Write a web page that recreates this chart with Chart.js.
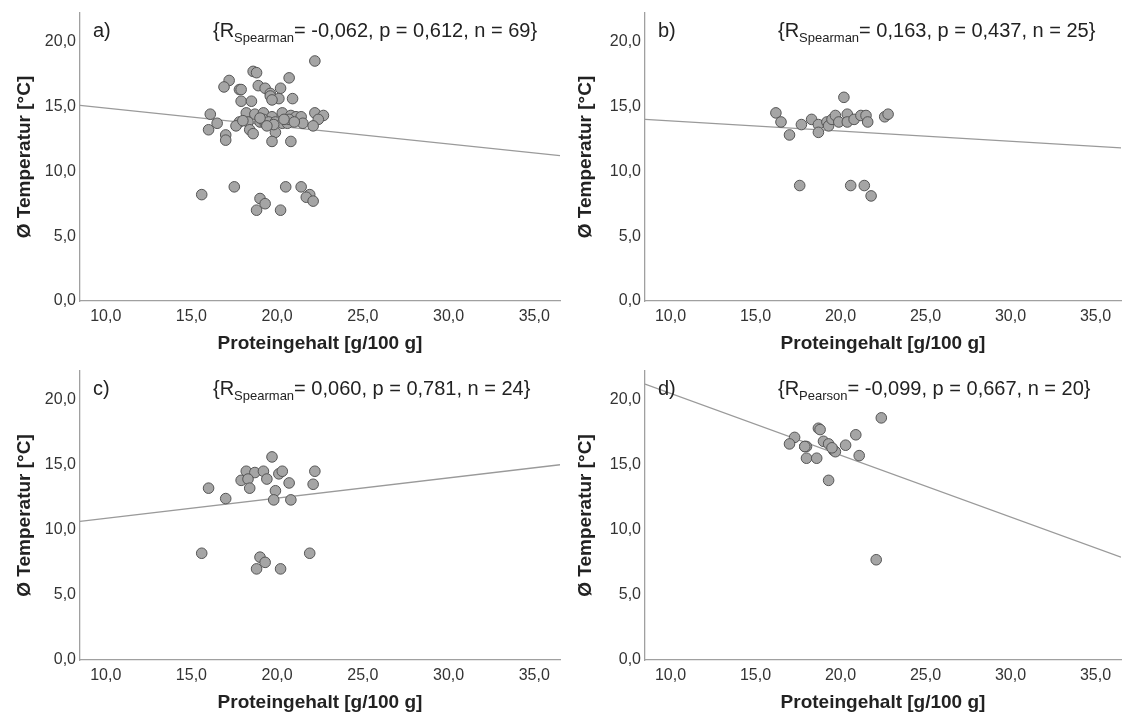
<!DOCTYPE html>
<html>
<head>
<meta charset="utf-8">
<script src="https://cdn.jsdelivr.net/npm/chart.js@4.4.1/dist/chart.umd.min.js"></script>
<style>
  body { margin: 0; background: #fff; }
  .panel { position: absolute; }
</style>
</head>
<body>
<div class="panel" style="left:0;top:0"><canvas id="chartA" width="561" height="358"></canvas></div>
<div class="panel" style="left:561px;top:0"><canvas id="chartB" width="561" height="358"></canvas></div>
<div class="panel" style="left:0;top:358px"><canvas id="chartC" width="561" height="359"></canvas></div>
<div class="panel" style="left:561px;top:358px"><canvas id="chartD" width="561" height="359"></canvas></div>
<script>
// tick labels
const xTicks = [10, 15, 20, 25, 30, 35];
const yTicks = [0, 5, 10, 15, 20];

// a) all samples
const aProtein = [22.2, 18.6, 18.8, 17.2, 16.9, 20.7, 17.8, 17.9, 18.9, 19.3, 20.2, 19.6, 19.6, 20.1, 19.7, 20.9, 17.9, 18.5,
  16.1, 18.2, 18.7, 19.2, 19.7, 20.3, 20.8, 21.1, 21.4, 22.2, 22.7, 22.4, 16.5, 16.0, 17.8, 17.6, 18.3, 18.4, 18.6, 19.0,
  19.3, 19.2, 19.5, 19.9, 20.3, 20.6, 20.7, 21.5, 22.1, 19.9, 19.7, 20.8, 17.0, 17.0, 19.0, 19.8, 20.4, 18.0, 21.0, 19.4,
  15.6, 17.5, 19.0, 19.3, 18.8, 20.2, 20.5, 21.4, 21.9, 21.7, 22.1];
const aTemp = [18.5, 17.7, 17.6, 17.0, 16.5, 17.2, 16.3, 16.3, 16.6, 16.4, 16.4, 16.0, 15.8, 15.6, 15.5, 15.6, 15.4, 15.4,
  14.4, 14.5, 14.4, 14.5, 14.2, 14.5, 14.3, 14.2, 14.2, 14.5, 14.3, 14.0, 13.7, 13.2, 13.8, 13.5, 13.8, 13.2, 12.9, 13.8,
  13.7, 14.0, 13.8, 13.8, 13.7, 13.7, 14.0, 13.7, 13.5, 13.0, 12.3, 12.3, 12.8, 12.4, 14.1, 13.6, 14.0, 13.9, 13.8, 13.5,
  8.2, 8.8, 7.9, 7.5, 7.0, 7.0, 8.8, 8.8, 8.2, 8.0, 7.7];

// b)
const bProtein = [20.2, 16.2, 16.5, 17.0, 17.7, 18.3, 18.7, 18.7, 19.2, 19.3, 19.5, 19.7, 19.9, 20.4, 20.4, 20.8, 21.2,
  21.5, 21.6, 22.6, 22.8, 17.6, 20.6, 21.4, 21.8];
const bTemp = [15.7, 14.5, 13.8, 12.8, 13.6, 14.0, 13.6, 13.0, 13.8, 13.5, 14.0, 14.3, 13.8, 14.4, 13.8, 14.0, 14.3,
  14.3, 13.8, 14.2, 14.4, 8.9, 8.9, 8.9, 8.1];

// c)
const cProtein = [19.7, 18.2, 18.7, 19.2, 20.1, 20.3, 22.2, 17.9, 18.3, 19.4, 20.7, 22.1, 16.0, 18.4, 19.9, 17.0, 19.8,
  20.8, 15.6, 21.9, 19.0, 19.3, 18.8, 20.2];
const cTemp = [15.6, 14.5, 14.4, 14.5, 14.3, 14.5, 14.5, 13.8, 13.9, 13.9, 13.6, 13.5, 13.2, 13.2, 13.0, 12.4, 12.3,
  12.3, 8.2, 8.2, 7.9, 7.5, 7.0, 7.0];

// d)
const dProtein = [22.4, 18.7, 18.8, 20.9, 17.3, 17.0, 17.9, 18.0, 19.0, 19.3, 19.6, 19.7, 20.3, 18.0, 18.6, 21.1, 19.3,
  22.1, 17.9, 19.5];
const dTemp = [18.6, 17.8, 17.7, 17.3, 17.1, 16.6, 16.4, 16.4, 16.8, 16.6, 16.1, 16.0, 16.5, 15.5, 15.5, 15.7, 13.8,
  7.7, 16.4, 16.3];

// fit lines (ends of the x range)
const fitX = [8.5, 36.5];
const aFit = [15.08, 11.2];
const bFit = [14.0, 11.8];
const cFit = [10.65, 15.0];
const dFit = [21.2, 7.9];

const panels = [
  { id: 'chartA', letter: 'a)', rName: 'Spearman', stat: '= -0,062, p = 0,612, n = 69}', x: aProtein, y: aTemp, fit: aFit, yw: 80 },
  { id: 'chartB', letter: 'b)', rName: 'Spearman', stat: '= 0,163, p = 0,437, n = 25}', x: bProtein, y: bTemp, fit: bFit, yw: 84 },
  { id: 'chartC', letter: 'c)', rName: 'Spearman', stat: '= 0,060, p = 0,781, n = 24}', x: cProtein, y: cTemp, fit: cFit, yw: 80 },
  { id: 'chartD', letter: 'd)', rName: 'Pearson', stat: '= -0,099, p = 0,667, n = 20}', x: dProtein, y: dTemp, fit: dFit, yw: 84 }
];

Chart.defaults.font.family = '"Liberation Sans", Arial, sans-serif';
Chart.defaults.color = '#333';

const fmt = v => v.toFixed(1).replace('.', ',');

const labelPlugin = {
  id: 'panelLabels',
  afterDraw(chart) {
    const p = chart.options.plugins.panelLabels;
    const area = chart.chartArea;
    const ctx = chart.ctx;
    ctx.save();
    ctx.fillStyle = '#222';
    ctx.textBaseline = 'alphabetic';
    ctx.font = '20px "Liberation Sans", Arial, sans-serif';
    const base = area.top + 24;
    ctx.fillText(p.letter, area.left + 13, base);
    let x = area.left + 133;
    ctx.fillText('{R', x, base);
    x += ctx.measureText('{R').width;
    ctx.font = '13px "Liberation Sans", Arial, sans-serif';
    ctx.fillText(p.rName, x, base + 5);
    x += ctx.measureText(p.rName).width;
    ctx.font = '20px "Liberation Sans", Arial, sans-serif';
    ctx.fillText(p.stat, x, base);
    ctx.restore();
  }
};

panels.forEach(p => {
  const points = p.x.map((v, i) => ({ x: v, y: p.y[i] }));
  const line = fitX.map((v, i) => ({ x: v, y: p.fit[i] }));
  new Chart(document.getElementById(p.id).getContext('2d'), {
    type: 'scatter',
    data: {
      datasets: [
        {
          type: 'line',
          data: line,
          borderColor: '#9a9a9a',
          borderWidth: 1.3,
          pointRadius: 0,
          fill: false,
          order: 2
        },
        {
          data: points,
          backgroundColor: '#a5a5a5',
          borderColor: '#555',
          borderWidth: 1,
          pointRadius: 5.3,
          order: 1
        }
      ]
    },
    options: {
      responsive: false,
      animation: false,
      layout: { autoPadding: false, padding: { top: 13, right: 1, left: 0, bottom: 0 } },
      plugins: {
        legend: { display: false },
        tooltip: { enabled: false },
        panelLabels: { letter: p.letter, rName: p.rName, stat: p.stat }
      },
      scales: {
        x: {
          type: 'linear',
          min: 8.5,
          max: 36.5,
          grid: { display: false, drawTicks: false },
          border: { color: '#a0a0a0', width: 1.3 },
          ticks: { font: { size: 16 }, color: '#333', padding: 6, callback: fmt },
          afterBuildTicks: s => { s.ticks = xTicks.map(v => ({ value: v })); },
          afterFit: s => { s.height = 57; s.paddingLeft = 0; s.paddingRight = 0; },
          title: {
            display: true,
            text: 'Proteingehalt [g/100 g]',
            font: { size: 19, weight: 'bold' },
            color: '#222',
            padding: { top: 0, bottom: 3 }
          }
        },
        y: {
          type: 'linear',
          min: 0,
          max: 22.2,
          grid: { display: false, drawTicks: false },
          border: { color: '#a0a0a0', width: 1.3 },
          ticks: { font: { size: 16 }, color: '#333', padding: 4, callback: fmt },
          afterBuildTicks: s => { s.ticks = yTicks.map(v => ({ value: v })); },
          afterFit: s => { s.width = p.yw; s.paddingTop = 0; s.paddingBottom = 0; },
          title: {
            display: true,
            text: 'Ø Temperatur [°C]',
            font: { size: 19, weight: 'bold' },
            color: '#222',
            padding: { top: 13.5, bottom: 0 }
          }
        }
      }
    },
    plugins: [labelPlugin]
  });
});
</script>
</body>
</html>
